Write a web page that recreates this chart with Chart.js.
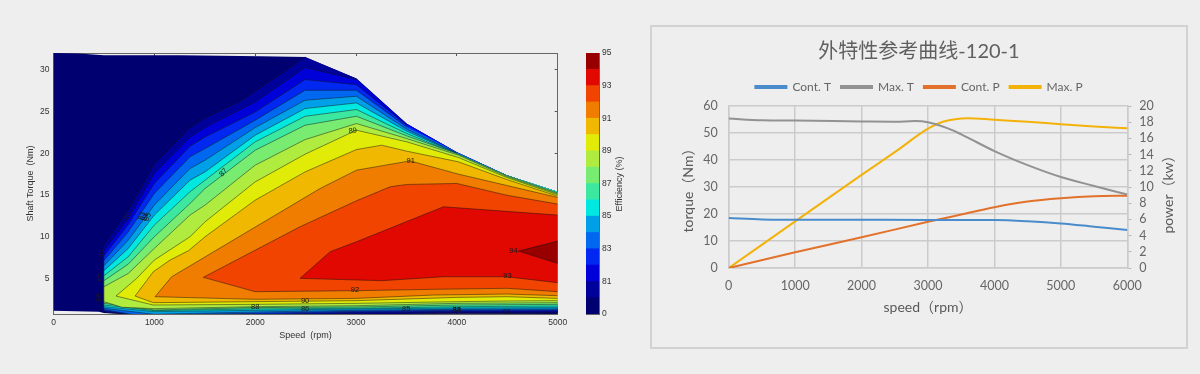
<!DOCTYPE html>
<html>
<head>
<meta charset="utf-8">
<title>外特性参考曲线</title>
<script src="https://cdn.jsdelivr.net/npm/chart.js@4/dist/chart.umd.min.js"></script>
<style>
    html, body { margin: 0; padding: 0; background: #eeeeee; }
    body { width: 1200px; height: 374px; position: relative; overflow: hidden; }
    canvas { position: absolute; filter: blur(0.35px); }
    #painel { position: absolute; left: 650px; top: 25px; width: 534px; height: 320px; border: 2px solid #d2d2d2; }
    #graficoMapa { left: 0; top: 0; }
    #graficoEscala { left: 570px; top: 0; }
    #graficoCurvas { left: 650px; top: 25px; }
</style>
</head>
<body>
<div id="painel"></div>
<canvas id="graficoMapa" width="570" height="374"></canvas>
<canvas id="graficoEscala" width="70" height="374"></canvas>
<canvas id="graficoCurvas" width="538" height="324"></canvas>
<script>
// mapa de eficiencia: contornos, [rpm, Nm]
const envelope = [[0, 31.94], [250, 31.88], [500, 31.66], [1250, 31.66], [2050, 31.55], [2495, 31.47], [3004, 28.89], [3503, 23.5], [4000, 20.1], [4495, 17.38], [5000, 15.4], [5000, 0.83], [500, 0.95], [450, 1.1], [0, 1.23]];
const envelopeRight = [[3004, 28.89], [3503, 23.5], [4000, 20.1], [4495, 17.38], [5000, 15.4]];

const top80 = [[500, 9.04], [742, 13.21], [1000, 18.69], [1354, 23.05], [1503, 24.2], [1867, 26.3], [2495, 31.47]];
const top81 = [[500, 8.37], [742, 12.22], [1000, 17.58], [1354, 21.94], [1503, 23.05], [2000, 26.11], [2495, 30.2], [3004, 28.77]];
const top82 = [[500, 7.74], [742, 11.5], [1000, 16.39], [1354, 20.83], [1503, 21.94], [2000, 24.92], [2495, 28.77], [3004, 28.17], [3503, 23.33]];
const top83 = [[500, 7.18], [742, 10.63], [1000, 15.2], [1354, 19.56], [1503, 20.55], [2000, 23.93], [2495, 27.5], [3004, 27.5], [3503, 23.13]];
const top84 = [[500, 6.58], [742, 9.64], [1000, 13.81], [1354, 18.17], [1503, 19.16], [2000, 23.05], [2495, 26.31], [3004, 26.78], [3503, 22.85], [4000, 20.0]];
const top85 = [[500, 5.99], [742, 8.65], [1000, 12.62], [1354, 16.78], [1503, 17.77], [2000, 22.14], [2495, 25.32], [3004, 25.99], [3503, 22.62], [4000, 19.96]];
const top86 = [[500, 5.39], [742, 7.66], [1000, 11.43], [1354, 15.4], [1503, 16.78], [2000, 21.35], [2495, 24.4], [3004, 25.2], [3503, 22.34], [4000, 19.9]];
const top87 = [[500, 4.8], [742, 6.78], [1000, 10.04], [1354, 14.0], [1503, 15.79], [2000, 20.35], [2495, 23.33], [3004, 24.4], [3503, 22.06], [4000, 19.95], [4495, 17.34], [5000, 15.27]];
const top88 = [[500, 4.08], [742, 5.67], [1000, 8.65], [1354, 12.62], [1503, 13.81], [2000, 18.57], [2495, 21.62], [3004, 23.53], [3503, 21.74], [4016, 19.76], [4495, 17.22], [5000, 15.16]];
const top89 = [[620, 2.97], [825, 5.08], [1000, 7.26], [1354, 10.04], [1503, 11.82], [2000, 16.58], [2495, 19.88], [3004, 22.74], [3503, 21.35], [4016, 19.48], [4495, 17.1], [5000, 15.04]];
const top90 = [[809, 2.97], [990, 5.87], [1156, 7.26], [1338, 8.37], [1503, 10.04], [2000, 14.4], [2495, 17.77], [3004, 20.43], [3255, 20.95], [3503, 20.24], [4016, 18.97], [4495, 16.86], [5000, 14.88]];
const top91 = [[1007, 2.89], [1172, 5.27], [2644, 15.79], [3004, 17.97], [3536, 19.08], [4016, 17.5], [4495, 16.15], [5000, 14.72]];
const top92 = [[1486, 5.2], [2445, 11.23], [3004, 14.32], [3338, 15.99], [3503, 16.27], [3999, 16.39], [4495, 14.99], [5000, 13.93]];
const top93 = [[2445, 5.08], [2743, 8.25], [3004, 9.44], [3867, 13.61], [5000, 12.62]];
const top94 = [[4611, 8.33], [5000, 9.52]];

const bottom80 = [[500, 0.99], [800, 0.7], [3000, 0.75], [4000, 0.91], [5000, 0.95]];
const bottom81 = [[500, 1.11], [800, 0.7], [2000, 0.7], [3000, 0.91], [4000, 1.03], [5000, 1.07]];
const bottom82 = [[500, 1.23], [800, 0.7], [2000, 0.75], [3000, 1.03], [4000, 1.15], [5000, 1.19]];
const bottom83 = [[500, 1.35], [800, 0.75], [1000, 0.7], [2000, 0.91], [3000, 1.15], [4000, 1.27], [5000, 1.31]];
const bottom84 = [[500, 1.51], [1000, 0.8], [2000, 1.07], [3000, 1.27], [4000, 1.39], [5000, 1.43]];
const bottom85 = [[500, 1.7], [1000, 1.11], [2000, 1.27], [3000, 1.43], [4000, 1.55], [5000, 1.59]];
const bottom86 = [[500, 1.9], [1000, 1.23], [2000, 1.43], [3000, 1.51], [4000, 1.7], [5000, 1.78]];
const bottom87 = [[500, 2.1], [1000, 1.31], [2000, 1.59], [3000, 1.66], [4000, 1.9], [5000, 1.98]];
const bottom88 = [[500, 2.3], [680, 1.63], [1000, 1.47], [2000, 1.7], [3000, 1.82], [4000, 2.1], [5000, 2.18]];
const bottom89 = [[620, 2.97], [990, 1.9], [2000, 1.98], [3000, 2.1], [4000, 2.3], [4500, 2.38], [5000, 2.42]];
const bottom90 = [[809, 2.97], [990, 2.18], [2000, 2.3], [3000, 2.42], [4000, 2.81], [4500, 2.89], [5000, 2.69]];
const bottom91 = [[1007, 2.89], [2000, 2.58], [3000, 2.69], [3768, 3.09], [4500, 3.21], [5000, 3.01]];
const bottom92 = [[1486, 5.2], [2000, 3.49], [3000, 3.61], [3768, 3.77], [4500, 3.89], [5000, 3.49]];
const bottom93 = [[2445, 5.08], [3255, 4.8], [3867, 5.27], [4495, 5.27], [5000, 4.56]];
const bottom94 = [[4611, 8.33], [5000, 6.86]];

const contourTops = [top80, top81, top82, top83, top84, top85, top86, top87, top88, top89, top90, top91, top92, top93, top94];
const contourBottoms = [bottom80, bottom81, bottom82, bottom83, bottom84, bottom85, bottom86, bottom87, bottom88, bottom89, bottom90, bottom91, bottom92, bottom93, bottom94];

// faixas da barra de cores, de baixo para cima (0, 80, 81 ... 95)
const bandColors = ["#000070", "#00009a", "#0000d8", "#0028f0", "#0068f0", "#00a0e8", "#00e8e0", "#3ce8a0", "#78ec70", "#b0ec40", "#e0ec08", "#f0b800", "#f07c00", "#f04400", "#e00800", "#980000"];
const colorbarLabels = ["0", "", "81", "", "83", "", "85", "", "87", "", "89", "", "91", "", "93", "", "95"];

const labelTexts = ["80", "83", "84", "85", "87", "89", "91", "92", "93", "90", "88", "86", "85", "84", "83", "82", "81", "94", "81", "85", "88"];
const labelSpeeds = [732, 877, 910, 935, 1685, 2968, 3543, 2990, 4502, 2495, 2000, 2495, 3497, 3999, 3999, 3999, 4495, 4561, 484, 460, 453];
const labelTorques = [12.5, 12.5, 12.4, 12.4, 17.7, 22.66, 19.1, 3.69, 5.35, 2.42, 1.63, 1.43, 1.43, 1.35, 1.31, 1.27, 1.11, 8.33, 8.17, 5.2, 2.8];
const labelAngles = [-70, -70, -70, -70, -45, -8, 0, 0, 0, 0, 0, 0, 0, 0, 0, 0, 0, 0, -90, -90, -90];

// curvas externas
const speedTorque = ["Cont. T", "Max. T", "Cont. P", "Max. P"];
const contTorque = [[0, 18.5], [500, 18.0], [1000, 17.9], [2000, 17.85], [3000, 17.8], [4000, 17.75], [4500, 17.3], [5000, 16.5], [5500, 15.3], [6000, 14.1]];
const maxTorque = [[0, 55.4], [500, 54.7], [1000, 54.6], [2000, 54.3], [2500, 54.2], [2800, 54.4], [3000, 54.0], [3300, 51.7], [3500, 49.5], [4000, 43.3], [4500, 38.1], [5000, 33.7], [5500, 30.4], [6000, 27.2]];
const contPower = [[0, 0], [1000, 1.95], [2000, 3.79], [3000, 5.7], [3500, 6.6], [4000, 7.5], [4500, 8.2], [5000, 8.6], [5500, 8.85], [6000, 8.93]];
const maxPower = [[0, 0], [1000, 5.75], [2000, 11.5], [2500, 14.3], [3000, 17.2], [3225, 18.06], [3600, 18.5], [4000, 18.3], [4500, 18.05], [5000, 17.75], [5500, 17.48], [6000, 17.24]];
const curveColors = ["#4a8ccb", "#929292", "#e2722b", "#f2b20a"];

function toPoints(pairs) {
    return pairs.map(p => ({ x: p[0], y: p[1] }));
}

// textos soltos (titulos de eixo a direita, que o Chart.js so gira para o outro lado)
const freeText = {
    id: "freeText",
    afterDraw(chart, args, opts) {
        const ctx = chart.ctx;
        (opts.items || []).forEach(item => {
            ctx.save();
            ctx.translate(item.x, item.y);
            ctx.rotate(item.rot * Math.PI / 180);
            ctx.font = item.font;
            ctx.fillStyle = item.color;
            ctx.textAlign = "center";
            ctx.textBaseline = "middle";
            ctx.fillText(item.text, 0, 0);
            ctx.restore();
        });
    }
};

const contourLabels = {
    id: "contourLabels",
    afterDatasetsDraw(chart) {
        const ctx = chart.ctx;
        labelTexts.forEach((text, i) => {
            ctx.save();
            ctx.translate(chart.scales.x.getPixelForValue(labelSpeeds[i]), chart.scales.y.getPixelForValue(labelTorques[i]));
            ctx.rotate(labelAngles[i] * Math.PI / 180);
            ctx.font = "7.5px 'Liberation Sans'";
            ctx.fillStyle = "#1a1a1a";
            ctx.textAlign = "center";
            ctx.textBaseline = "middle";
            ctx.fillText(text, 0, 0);
            ctx.restore();
        });
    }
};

function plainTick(value) {
    return String(value);
}

function criarMapa() {
    const datasets = [{
        data: toPoints(envelope),
        showLine: true,
        fill: "shape",
        backgroundColor: bandColors[0],
        borderWidth: 0,
        pointRadius: 0,
        order: 100
    }];

    contourTops.forEach((top, i) => {
        const last = top[top.length - 1][0];
        const closing = envelopeRight.filter(p => p[0] > last);
        const path = contourBottoms[i].slice().reverse().concat(top);
        datasets.push({
            data: toPoints(path.concat(closing)),
            showLine: true,
            fill: "shape",
            backgroundColor: bandColors[i + 1],
            borderWidth: 0,
            pointRadius: 0,
            order: 99 - i * 2
        });
        datasets.push({
            data: toPoints(path),
            showLine: true,
            fill: false,
            borderColor: "rgba(20,20,20,0.6)",
            borderWidth: 0.8,
            pointRadius: 0,
            order: 98 - i * 2
        });
    });

    const tickColor = "#555555";
    const tickFont = { family: "'Liberation Sans'", size: 8.5 };
    const titleFont = { family: "'Liberation Sans'", size: 9 };
    const inward = { color: tickColor, drawOnChartArea: false, tickLength: -3, tickColor: tickColor };
    const frame = { display: true, color: "#666666", width: 1 };

    new Chart(document.getElementById("graficoMapa"), {
        type: "scatter",
        data: { datasets: datasets },
        plugins: [contourLabels],
        options: {
            responsive: false,
            animation: false,
            layout: { autoPadding: false, padding: { top: 53, right: 12.3, left: 0, bottom: 0 } },
            plugins: { legend: { display: false }, tooltip: { enabled: false } },
            scales: {
                x: {
                    type: "linear", position: "bottom", min: 0, max: 5000,
                    ticks: { stepSize: 1000, padding: 7, color: "#333333", font: tickFont, maxRotation: 0, callback: plainTick },
                    grid: inward, border: frame,
                    title: { display: true, text: "Speed  (rpm)", color: "#333333", font: titleFont, padding: { top: 0, bottom: 33 } },
                    afterFit(scale) {
                        scale.height = 60;
                        scale.paddingLeft = 0;
                        scale.paddingRight = 0;
                    }
                },
                y: {
                    type: "linear", position: "left", min: 0.83, max: 31.94,
                    ticks: { stepSize: 5, includeBounds: false, padding: 7, color: "#333333", font: tickFont },
                    grid: inward, border: frame,
                    title: { display: true, text: "Shaft Torque  (Nm)", color: "#333333", font: titleFont, padding: { top: 25, bottom: 0 } },
                    afterFit(scale) { scale.width = 53.5; }
                },
                x2: {
                    type: "linear", axis: "x", position: "top", min: 0, max: 5000,
                    ticks: { stepSize: 1000, display: false },
                    grid: inward, border: frame,
                    afterFit(scale) { scale.height = 0; }
                },
                y2: {
                    type: "linear", axis: "y", position: "right", min: 0.83, max: 31.94,
                    ticks: { stepSize: 5, includeBounds: false, display: false },
                    grid: inward, border: frame,
                    afterFit(scale) { scale.width = 0; }
                }
            }
        }
    });
}

function criarEscala() {
    const frame = { display: true, color: "#666666", width: 1 };
    const noGrid = { display: false };
    new Chart(document.getElementById("graficoEscala"), {
        type: "bar",
        data: {
            labels: ["Efficiency"],
            datasets: bandColors.map(cor => ({ data: [1], backgroundColor: cor, barPercentage: 1, categoryPercentage: 1 }))
        },
        plugins: [freeText],
        options: {
            responsive: false,
            animation: false,
            layout: { autoPadding: false, padding: { top: 53, bottom: 0, left: 16, right: 0 } },
            plugins: {
                legend: { display: false },
                tooltip: { enabled: false },
                freeText: { items: [{ text: "Efficiency (%)", x: 50, y: 184, rot: -90, font: "9px 'Liberation Sans'", color: "#333333" }] }
            },
            scales: {
                x: {
                    stacked: true, position: "bottom",
                    ticks: { display: false }, grid: noGrid, border: frame,
                    afterFit(scale) { scale.height = 60; }
                },
                y: {
                    stacked: true, position: "right", min: 0, max: 16,
                    ticks: {
                        stepSize: 1, autoSkip: false, padding: 3, color: "#333333",
                        font: { family: "'Liberation Sans'", size: 8.5 },
                        callback: value => colorbarLabels[value]
                    },
                    grid: { display: false, drawTicks: false }, border: frame,
                    afterFit(scale) { scale.width = 41; }
                },
                x2: {
                    type: "linear", axis: "x", position: "top", min: 0, max: 1,
                    ticks: { display: false }, grid: noGrid, border: frame,
                    afterFit(scale) { scale.height = 0; }
                },
                y2: {
                    type: "linear", axis: "y", position: "left", min: 0, max: 16,
                    ticks: { display: false }, grid: noGrid, border: frame,
                    afterFit(scale) { scale.width = 0; }
                }
            }
        }
    });
}

function criarCurvas() {
    const series = [contTorque, maxTorque, contPower, maxPower];
    const eixos = ["y", "y", "y2", "y2"];
    const gridColor = "#cbcbcb";
    const textFont = "Lato, 'Noto Sans CJK SC'";

    new Chart(document.getElementById("graficoCurvas"), {
        type: "scatter",
        data: {
            datasets: series.map((valores, i) => ({
                label: speedTorque[i],
                data: toPoints(valores),
                yAxisID: eixos[i],
                showLine: true,
                fill: false,
                borderColor: curveColors[i],
                backgroundColor: curveColors[i],
                borderWidth: 2,
                pointRadius: 0,
                cubicInterpolationMode: "monotone"
            }))
        },
        plugins: [freeText],
        options: {
            responsive: false,
            animation: false,
            layout: { autoPadding: false },
            plugins: {
                tooltip: { enabled: false },
                title: {
                    display: true,
                    text: "外特性参考曲线-120-1",
                    color: "#5f5f5f",
                    font: { family: textFont, size: 20, weight: "normal" },
                    padding: { top: 15, bottom: 7 }
                },
                legend: {
                    display: true,
                    position: "top",
                    labels: {
                        boxWidth: 31, boxHeight: 2, padding: 10, color: "#666666",
                        font: { family: textFont, size: 12 }
                    }
                },
                freeText: { items: [{ text: "power（kw）", x: 518, y: 166, rot: -90, font: "14px " + textFont, color: "#595959" }] }
            },
            scales: {
                x: {
                    type: "linear", min: 0, max: 6000,
                    ticks: { stepSize: 1000, padding: 10, color: "#666666", font: { family: textFont, size: 12.5 }, maxRotation: 0, callback: plainTick },
                    grid: { color: gridColor, lineWidth: 1.5, drawTicks: false },
                    border: { color: gridColor, width: 1.5 },
                    title: { display: true, text: "speed（rpm）", color: "#595959", font: { family: textFont, size: 14 }, padding: { top: 0, bottom: 33 } },
                    afterFit(scale) { scale.height = 81; }
                },
                // espaco entre a legenda e o grafico
                x2: {
                    type: "linear", axis: "x", position: "top", min: 0, max: 6000,
                    ticks: { display: false }, grid: { display: false }, border: { display: false },
                    afterFit(scale) { scale.height = 3; }
                },
                y: {
                    type: "linear", position: "left", min: 0, max: 60,
                    ticks: { stepSize: 10, padding: 11, color: "#666666", font: { family: textFont, size: 12.5 } },
                    grid: { color: gridColor, lineWidth: 1.5, drawTicks: false },
                    border: { color: gridColor, width: 1.5 },
                    title: { display: true, text: "torque（Nm）", color: "#595959", font: { family: textFont, size: 14 }, padding: { top: 30, bottom: 0 } },
                    afterFit(scale) { scale.width = 78.7; }
                },
                y2: {
                    type: "linear", position: "right", min: 0, max: 20,
                    ticks: { stepSize: 2, autoSkip: false, padding: 8, color: "#666666", font: { family: textFont, size: 12.5 } },
                    grid: { drawOnChartArea: false, color: "#b5b5b5", tickLength: 4 },
                    border: { color: gridColor, width: 1.5 },
                    afterFit(scale) { scale.width = 60.7; }
                }
            }
        }
    });
}

Chart.defaults.devicePixelRatio = 1;
criarMapa();
criarEscala();
criarCurvas();
</script>
</body>
</html>
